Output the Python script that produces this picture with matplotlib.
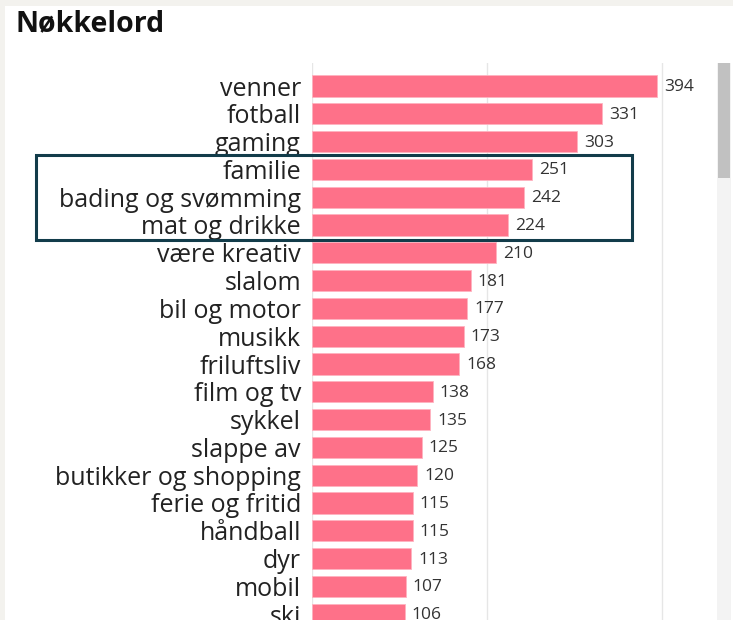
import matplotlib
matplotlib.use('Agg')
import matplotlib.pyplot as plt
import matplotlib.patches as mpatches

W, H = 733, 620
DPI = 100

categories = ['venner', 'fotball', 'gaming', 'familie', 'bading og svømming',
              'mat og drikke', 'være kreativ', 'slalom', 'bil og motor', 'musikk',
              'friluftsliv', 'film og tv', 'sykkel', 'slappe av',
              'butikker og shopping', 'ferie og fritid', 'håndball', 'dyr',
              'mobil', 'ski']
values = [394, 331, 303, 251, 242, 224, 210, 181, 177, 173,
          168, 138, 135, 125, 120, 115, 115, 113, 107, 106]
grid_ticks = [0, 200, 400]

BAR = '#fe7189'
FONT = 'Open Sans'


def fx(px):
    return px / W


def fy(py):
    return 1 - py / H


fig = plt.figure(figsize=(W / DPI, H / DPI), dpi=DPI, facecolor='#f3f2ee')

# panel blanc
fig.patches.append(mpatches.Rectangle((fx(5), 0), fx(W - 5), fy(6), transform=fig.transFigure,
                                      fc='white', ec='none', zorder=-5))

fig.text(fx(15), fy(24), 'Nøkkelord', ha='left', va='center', fontsize=20.5,
         fontweight='bold', family=FONT, color='#111')

# axes: x 0 at 312 px, 0.876 px/unit; top at 63 px, row pitch 27.8 px
ax_left, ax_right, ax_top = 312, 700, 63
pitch = 27.8
ax = fig.add_axes([fx(ax_left), 0, fx(ax_right - ax_left), fy(ax_top)])
ax.set_facecolor('none')
ax.set_xlim(0, (ax_right - ax_left) / 0.876)
ax.set_ylim((H - 86) / pitch, -(86 - ax_top) / pitch)

ypos = list(range(len(categories)))
ax.barh(ypos, values, height=0.76, color=BAR, edgecolor='#ffb3c0', linewidth=0.6, zorder=2)
for y, v in zip(ypos, values):
    ax.annotate(str(v), (v, y), xytext=(7, -1), textcoords='offset pixels',
                ha='left', va='center', fontsize=12.5, family=FONT, color='#333',
                annotation_clip=False)

ax.set_yticks(ypos)
ax.set_yticklabels(categories, family=FONT, fontsize=18, color='#222')
ax.tick_params(axis='y', length=0, pad=8)
ax.set_xticks(grid_ticks)
ax.tick_params(axis='x', length=0, labelbottom=False)
ax.grid(axis='x', color='#e6e6e6', linewidth=1)
ax.set_axisbelow(True)
for s in ax.spines.values():
    s.set_visible(False)

# cadre de mise en valeur
fig.patches.append(mpatches.Rectangle((fx(36), fy(240)), fx(632 - 36), (240 - 155) / H,
                                      transform=fig.transFigure, fill=False,
                                      ec='#123c4a', lw=2.2, zorder=5))

# barre de défilement
fig.patches.append(mpatches.Rectangle((fx(717), 0), fx(14), fy(63), transform=fig.transFigure,
                                      fc='#f3f3f3', ec='none', zorder=5))
fig.patches.append(mpatches.Rectangle((fx(718), fy(178)), fx(12), (178 - 63) / H,
                                      transform=fig.transFigure, fc='#c1c1c1', ec='none', zorder=6))

fig.savefig('out.png', dpi=DPI, facecolor=fig.get_facecolor())
